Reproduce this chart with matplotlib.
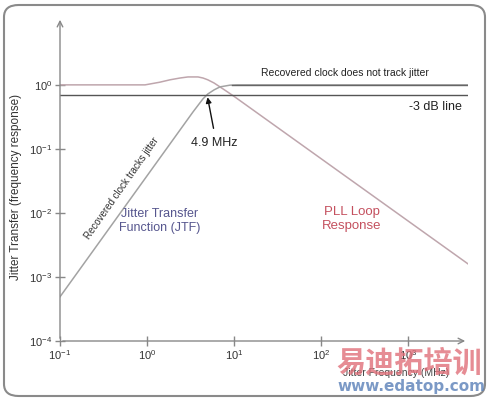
import numpy as np
import matplotlib
matplotlib.use('Agg')
import matplotlib.pyplot as plt
from matplotlib.patches import FancyBboxPatch
from matplotlib.ticker import FixedLocator, NullLocator

plt.rcParams['font.family'] = ['Liberation Sans', 'DejaVu Sans']
plt.rcParams['mathtext.fontset'] = 'custom'
plt.rcParams['mathtext.rm'] = 'Liberation Sans'
plt.rcParams['mathtext.it'] = 'Liberation Sans'

# values (frequency in MHz, magnitude)
jtf_freq = [0.1, 3.38, 4.4, 5.0, 5.9, 6.9, 9.0, 11.0, 4900]
jtf_mag = [4.9e-4, 0.378, 0.605, 0.72, 0.835, 0.93, 0.99, 1.0, 1.0]

pll_freq = [0.1, 0.95, 1.4, 1.84, 2.4, 2.96, 3.86, 4.4, 5.0, 5.9, 6.9, 8.5, 10.2, 4900]
pll_mag = [1.0, 1.0, 1.1, 1.2, 1.28, 1.33, 1.33, 1.28, 1.2, 1.07, 0.93, 0.77, 0.65, 1.6e-3]

line_3db = 0.707
corner_freq = 4.9

xticks = [0.1, 1, 10, 100, 1000]
xtick_labels = ['10$^{-1}$', '10$^{0}$', '10$^{1}$', '10$^{2}$', '10$^{3}$']
yticks = [1e-4, 1e-3, 1e-2, 1e-1, 1]
ytick_labels = ['10$^{-4}$', '10$^{-3}$', '10$^{-2}$', '10$^{-1}$', '10$^{0}$']

fig = plt.figure(figsize=(4.91, 4.0), dpi=100)
ax = fig.add_axes([60/491, 1-341/400, 408/491, 324/400])
ax.set_xscale('log')
ax.set_yscale('log')
ax.set_xlim(0.1, 10**3.69)
ax.set_ylim(1e-4, 10**1.06)

ax.plot(pll_freq, pll_mag, color='#bfa6ad', lw=1.1)
ax.plot(jtf_freq, jtf_mag, color='#a3a3a3', lw=1.1)
ax.plot([0.1, 10**3.69], [line_3db, line_3db], color='#555555', lw=1.0)
# 1.0 reference on the right, where the JTF curve has settled
ax.plot([9.5, 10**3.69], [1.0, 1.0], color='#666666', lw=1.0)

for s in ax.spines.values():
    s.set_visible(False)
ax.annotate('', xy=(1.0, 0), xytext=(0, 0), xycoords='axes fraction',
            arrowprops=dict(arrowstyle='->', color='#888888', lw=1.0))
ax.annotate('', xy=(0, 1.0), xytext=(0, 0), xycoords='axes fraction',
            arrowprops=dict(arrowstyle='->', color='#888888', lw=1.0))

ax.xaxis.set_major_locator(FixedLocator(xticks))
ax.xaxis.set_minor_locator(NullLocator())
ax.set_xticklabels(xtick_labels)
ax.yaxis.set_major_locator(FixedLocator(yticks))
ax.yaxis.set_minor_locator(NullLocator())
ax.set_yticklabels(ytick_labels)
ax.tick_params(direction='inout', length=7, width=1, color='#888888',
               labelcolor='#333333', labelsize=8, pad=2)

fig.text(16/491, 1-187/400, 'Jitter Transfer (frequency response)',
         fontsize=8.5, rotation=90, ha='center', va='center', color='#333333')

ax.text(189, 1.3, 'Recovered clock does not track jitter', fontsize=7.5,
        ha='center', va='bottom', color='#222222')
ax.text(10**3.62, 0.45, '-3 dB line', fontsize=9, ha='right', va='center',
        color='#222222')
ax.annotate('', xy=(corner_freq, line_3db), xytext=(5.9, 0.19),
            arrowprops=dict(arrowstyle='-|>', color='#111111', lw=1.0,
                            mutation_scale=8))
ax.text(6.0, 0.155, '4.9 MHz', fontsize=9, ha='center', va='top',
        color='#222222')
ax.text(0.52, 0.024, 'Recovered clock tracks jitter', fontsize=7,
        rotation=55, ha='center', va='center', color='#333333',
        rotation_mode='anchor')
ax.text(1.41, 0.0075, 'Jitter Transfer\nFunction (JTF)', fontsize=9,
        ha='center', va='center', color='#56568e', linespacing=1.3)
ax.text(227, 0.008, 'PLL Loop\nResponse', fontsize=9.5,
        ha='center', va='center', color='#c4505e', linespacing=1.3)

fig.text(396/491, 1-373/400, 'Jitter Frequency (MHz)', fontsize=7.5,
         ha='center', va='center', color='#444444')

# site watermark
fig.text(409/491, 1-362/400, '易迪拓培训', fontsize=21, weight='bold',
         ha='center', va='center', color='#e0707a', alpha=0.8,
         family=['Noto Sans CJK SC', 'DejaVu Sans'])
fig.text(411/491, 1-386/400, 'www.edatop.com', fontsize=11, weight='bold',
         ha='center', va='center', color='#5a80b8', alpha=0.8,
         family=['DejaVu Sans'])

border = FancyBboxPatch((4/491, 4/400), 481/491, 391/400,
                        boxstyle='round,pad=0,rounding_size=0.03',
                        transform=fig.transFigure, fill=False,
                        edgecolor='#8a8a8a', lw=1.5)
fig.patches.append(border)

fig.savefig('out.png', dpi=100)
